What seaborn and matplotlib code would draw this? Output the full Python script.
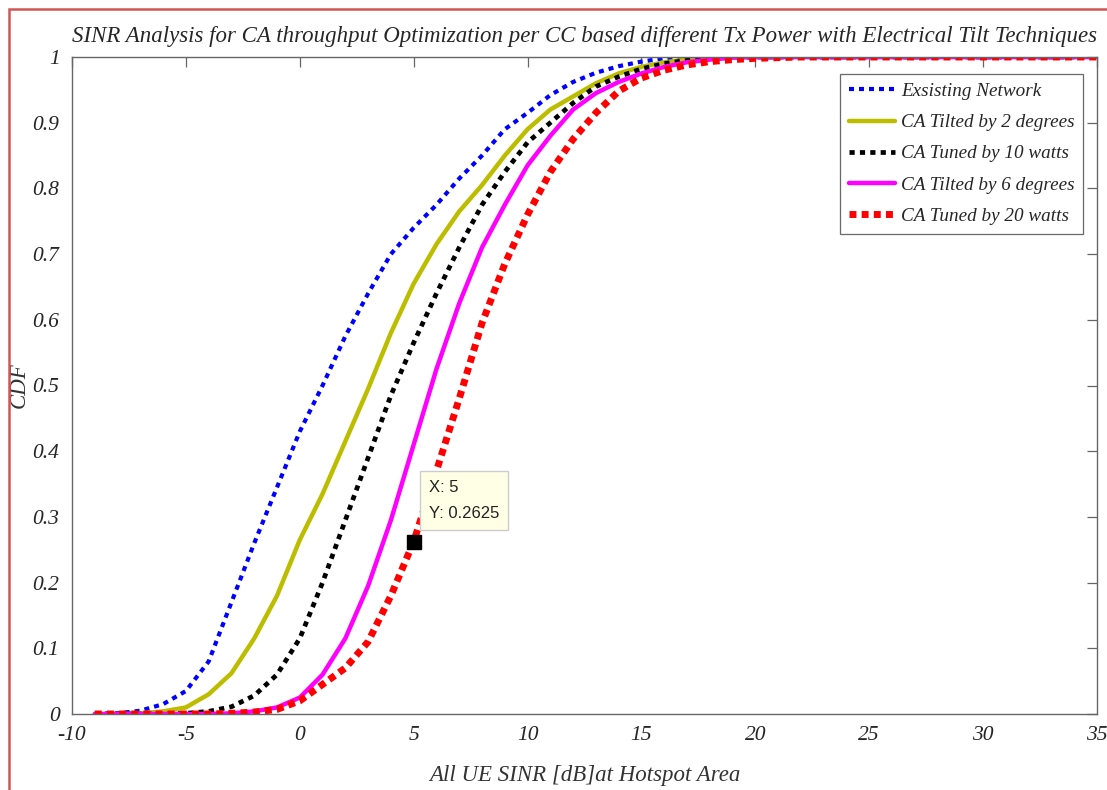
import numpy as np
import pandas as pd
import matplotlib
matplotlib.use("Agg")
import matplotlib.pyplot as plt
import seaborn as sns
from matplotlib.patches import Rectangle

# ---------------- data ----------------
sinr = list(range(-9, 36))

existing = [0, 0.001, 0.005, 0.015, 0.035, 0.08, 0.17, 0.26, 0.345, 0.43, 0.50, 0.575, 0.64,
            0.70, 0.74, 0.775, 0.815, 0.85, 0.89, 0.915, 0.942, 0.962, 0.976, 0.986, 0.993, 0.998]
tilt2 = [0, 0, 0.001, 0.004, 0.01, 0.03, 0.062, 0.115, 0.18, 0.265, 0.335, 0.415, 0.495, 0.58,
         0.655, 0.715, 0.765, 0.805, 0.85, 0.89, 0.92, 0.94, 0.96, 0.975, 0.985, 0.992, 0.996, 0.998, 0.999]
tune10 = [0, 0, 0, 0, 0.001, 0.004, 0.011, 0.028, 0.06, 0.115, 0.20, 0.295, 0.39, 0.485, 0.565,
          0.64, 0.71, 0.775, 0.825, 0.87, 0.90, 0.93, 0.955, 0.97, 0.982, 0.99, 0.995, 0.998, 0.999]
tilt6 = [0, 0, 0, 0, 0, 0, 0.001, 0.004, 0.01, 0.025, 0.06, 0.115, 0.195, 0.295, 0.41, 0.525, 0.625,
         0.71, 0.775, 0.835, 0.88, 0.92, 0.945, 0.962, 0.975, 0.985, 0.992, 0.996, 0.999]
tune20 = [0, 0, 0, 0, 0, 0, 0.001, 0.003, 0.007, 0.02, 0.045, 0.07, 0.11, 0.18, 0.2625, 0.37,
          0.48, 0.595, 0.685, 0.76, 0.825, 0.875, 0.915, 0.948, 0.968, 0.98, 0.988, 0.993, 0.996, 0.998, 0.999]

def pad(v):
    return v + [1.0] * (len(sinr) - len(v))

series_names = ["Exsisting Network", "CA Tilted by 2 degrees", "CA Tuned by 10 watts",
                "CA Tilted by 6 degrees", "CA Tuned by 20 watts"]
series_vals = [pad(existing), pad(tilt2), pad(tune10), pad(tilt6), pad(tune20)]

xticks = list(range(-10, 36, 5))
yticks = [round(0.1 * i, 1) for i in range(11)]
ytick_labels = ["0", "0.1", "0.2", "0.3", "0.4", "0.5", "0.6", "0.7", "0.8", "0.9", "1"]

tip_x, tip_y = 5, 0.2625

# ---------------- style ----------------
sns.set_theme(style="white")
plt.rcParams["font.family"] = ["Liberation Serif", "DejaVu Serif"]
plt.rcParams["font.style"] = "italic"
plt.rcParams["axes.unicode_minus"] = False

fig = plt.figure(figsize=(11.07, 7.9), dpi=100)
ax = fig.add_axes([72 / 1107, 1 - 714 / 790, (1097 - 72) / 1107, (714 - 57) / 790])

styles = [
    dict(color="#0000ff", lw=3.0, dash=(1.2, 1.2)),
    dict(color="#bdbd00", lw=3.2, dash=None),
    dict(color="#000000", lw=3.4, dash=(1.1, 1.1)),
    dict(color="#ff00ff", lw=3.2, dash=None),
    dict(color="#ff0000", lw=5.0, dash=(1.0, 0.75)),
]

for name, vals, st in zip(series_names, series_vals, styles):
    df = pd.DataFrame({"x": sinr, "y": vals})
    kw = dict(color=st["color"], lw=st["lw"], label=name)
    if st["dash"] is not None:
        kw["linestyle"] = (0, st["dash"])
        kw["dash_capstyle"] = "butt"
    sns.lineplot(data=df, x="x", y="y", ax=ax, **kw)

ax.set_xlim(-10, 35)
ax.set_ylim(0, 1)
ax.set_xticks(xticks)
ax.set_yticks(yticks)
ax.set_yticklabels(ytick_labels)
ax.tick_params(direction="in", length=7.5, width=0.9, colors="#666666", top=True, right=True,
               labelsize=15.5, pad=9, labelcolor="#262626")
for sp in ax.spines.values():
    sp.set_color("#666666")
    sp.set_linewidth(1.0)

ax.set_xlabel("All UE SINR [dB]at Hotspot Area", fontsize=16.5, color="#333333", labelpad=14)
ax.set_ylabel("CDF", fontsize=16.5, color="#333333", labelpad=2)
ax.set_title("SINR Analysis for CA throughput Optimization per CC based different Tx Power with Electrical Tilt Techniques",
             fontsize=16.5, color="#262626", pad=11)

leg = ax.legend(loc="upper right", bbox_to_anchor=(1 - 14 / 1025, 1 - 17 / 657), borderaxespad=0,
                frameon=True, fancybox=False, fontsize=13.8, handlelength=2.4, handletextpad=0.3,
                labelspacing=0.72, borderpad=0.45)
leg.get_frame().set_edgecolor("#444444")
leg.get_frame().set_linewidth(0.9)
for t in leg.get_texts():
    t.set_color("#262626")

# data tip
ax.plot([tip_x], [tip_y], marker="s", markersize=10, color="black", zorder=6)
ax.annotate(f"X: {tip_x}\nY: {tip_y}", xy=(tip_x, tip_y), xytext=(15, 21), textcoords="offset pixels",
            ha="left", va="bottom", fontsize=12, family="Liberation Sans", style="normal",
            color="#222222", linespacing=1.9,
            bbox=dict(boxstyle="square,pad=0.55", fc="#ffffe6", ec="#cccccc", lw=1.0), zorder=7)

# red border
fig.patches.append(Rectangle((9 / 1107, -0.05), 1.2, 1.05 - 9 / 790, transform=fig.transFigure,
                             fill=False, ec="#d05555", lw=1.8))

fig.savefig("out.png", dpi=100)
